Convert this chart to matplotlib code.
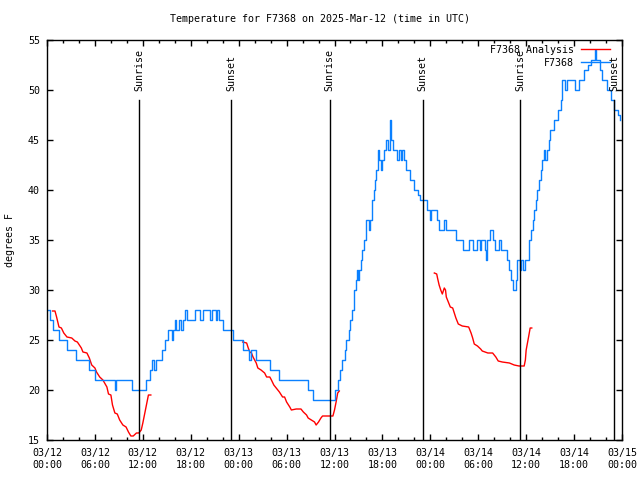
import numpy as np
import matplotlib
matplotlib.use("Agg")
import matplotlib.pyplot as plt
from matplotlib.lines import Line2D

plt.rcParams['font.family'] = ['DejaVu Sans Mono', 'DejaVu Sans']

title = "Temperature for F7368 on 2025-Mar-12 (time in UTC)"
ylabel = "degrees F"

# hours since 03/12 00:00 UTC
obs_hours = [0.1, 0.4, 0.8, 1.5, 2.5, 3.6, 5.3, 6.0, 8.5, 8.7, 10.6, 12.4, 12.9, 13.2, 13.4, 13.6,
             14.4, 14.8, 15.2, 15.7, 15.8, 16.0, 16.2, 16.5, 16.8, 17.0, 17.25, 17.5, 18.5, 19.1,
             19.5, 20.4, 20.7, 21.1, 21.3, 21.5, 22.0, 23.3, 24.5, 25.3, 25.5, 26.2, 27.9, 29.1,
             32.7, 33.3, 36.0, 36.4, 36.7, 37.0, 37.3, 37.5, 37.8, 38.0, 38.2, 38.4, 38.5, 38.7,
             38.8, 38.9, 39.1, 39.3, 39.5, 39.7, 39.9, 40.0, 40.3, 40.5, 40.7, 40.9, 41.1, 41.2,
             41.4, 41.5, 41.6, 41.8, 42.0, 42.2, 42.4, 42.7, 42.9, 43.0, 43.1, 43.3, 43.8, 44.1,
             44.3, 44.4, 44.7, 45.0, 45.5, 46.0, 46.4, 46.7, 47.6, 47.9, 48.1, 48.8, 49.1, 49.7,
             49.9, 51.2, 52.1, 52.9, 53.3, 53.9, 54.2, 54.4, 54.8, 54.95, 55.1, 55.5, 55.9, 56.1,
             56.6, 56.9, 57.6, 57.9, 58.1, 58.4, 58.75, 58.9, 59.2, 59.4, 59.6, 59.8, 60.4, 60.6,
             60.8, 61.0, 61.2, 61.4, 61.6, 61.8, 62.0, 62.2, 62.3, 62.6, 62.8, 63.0, 63.5, 64.0,
             64.3, 64.5, 64.9, 65.1, 66.1, 66.6, 67.2, 67.8, 68.1, 68.6, 68.8, 69.3, 69.5, 70.1,
             70.6, 71.0, 71.5, 71.7]
obs_temp = [28, 27, 26, 25, 24, 23, 22, 21, 20, 21, 20, 21, 22, 23, 22, 23,
            24, 25, 26, 25, 26, 27, 26, 27, 26, 27, 28, 27, 28, 27,
            28, 27, 28, 27, 28, 27, 26, 25, 24, 23, 24, 23, 22, 21,
            20, 19, 20, 21, 22, 23, 24, 25, 26, 27, 28, 29, 30, 31,
            32, 31, 32, 33, 34, 35, 36, 37, 36, 37, 39, 40, 41, 42,
            43, 44, 43, 42, 43, 44, 45, 44, 45, 47, 45, 44, 43, 44,
            43, 44, 43, 42, 41, 40, 39.5, 39, 38, 37, 38, 37, 36, 37,
            36, 35, 34, 35, 34, 35, 34, 35, 34, 33, 35, 36, 35, 34,
            35, 34, 33, 32, 31, 30, 31, 33, 32, 33, 32, 33, 35, 36,
            37, 38, 39, 40, 41, 42, 43, 44, 43, 44, 45, 46, 47, 48,
            49, 51, 50, 51, 50, 51, 52, 52.5, 53, 54, 53, 52, 51, 50,
            49, 48, 47.5, 47]

ana_hours = [0.7, 1.0, 1.2, 1.5, 1.8, 2.1, 2.5, 3.1, 3.5, 3.8, 4.3, 4.5, 5.0, 5.3, 5.6, 6.0,
             6.2, 6.6, 7.0, 7.5, 7.7, 8.0, 8.2, 8.5, 8.8, 9.1, 9.5, 9.9, 10.2, 10.5, 10.8,
             11.2, 11.5, 11.8, 12.0, 12.25, 12.5, 12.7, 13.0,
             np.nan,
             24.5, 25.0, 25.2, 25.4, 25.6, 25.8, 26.2, 26.4, 26.8, 27.25, 27.5, 27.9, 28.1,
             28.4, 28.7, 29.1, 29.5, 29.75, 30.0, 30.4, 30.6, 31.2, 31.8, 32.1, 32.5, 32.7,
             33.1, 33.5, 33.7, 34.0, 34.3, 34.5, 35.8, 36.0, 36.2, 36.4, 36.6,
             np.nan,
             48.5, 48.8, 48.9, 49.1, 49.3, 49.5, 49.75, 49.9, 50.0, 50.25, 50.5, 50.8, 51.0,
             51.2, 51.5, 52.0, 52.8, 53.1, 53.3, 53.5, 53.9, 54.3, 54.5, 55.2, 55.8, 56.2,
             56.5, 57.0, 57.9, 58.5, 59.1, 59.75, 59.9, 60.0, 60.3, 60.5, 60.7]
ana_temp = [27.9, 27.9, 27.3, 26.3, 26.2, 25.7, 25.3, 25.2, 24.9, 24.8, 24.2, 23.8, 23.7, 23.2, 22.5, 22.2,
            21.8, 21.3, 21.0, 20.3, 19.6, 19.5, 18.5, 17.7, 17.6, 17.0, 16.5, 16.3, 15.8, 15.4, 15.4,
            15.7, 15.7, 16.0, 16.7, 17.7, 18.7, 19.5, 19.5,
            np.nan,
            24.8, 24.7, 24.2, 23.8, 23.7, 23.3, 22.7, 22.2, 22.0, 21.7, 21.3, 21.3, 21.0,
            20.5, 20.2, 19.8, 19.3, 19.3, 18.8, 18.3, 18.0, 18.1, 18.1, 17.8, 17.5, 17.2,
            17.0, 16.8, 16.5, 16.8, 17.2, 17.4, 17.4, 18.0, 18.8, 19.7, 19.9,
            np.nan,
            31.7, 31.6, 31.2, 30.5, 30.0, 29.6, 30.2, 30.0, 29.3, 28.8, 28.3, 28.2, 27.7,
            27.2, 26.6, 26.4, 26.3, 25.7, 25.2, 24.6, 24.4, 24.1, 23.9, 23.7, 23.7, 23.3,
            22.9, 22.8, 22.7, 22.5, 22.4, 22.4, 23.0, 24.0, 25.3, 26.2, 26.2]

sun_labels = ["Sunrise", "Sunset", "Sunrise", "Sunset", "Sunrise", "Sunset"]
sun_hours = [11.53, 23.03, 35.38, 47.04, 59.25, 71.04]

xtick_hours = list(range(0, 73, 6))
xtick_labels = ["03/12\n00:00", "03/12\n06:00", "03/12\n12:00", "03/12\n18:00",
                "03/13\n00:00", "03/13\n06:00", "03/13\n12:00", "03/13\n18:00",
                "03/14\n00:00", "03/14\n06:00", "03/14\n12:00", "03/14\n18:00",
                "03/15\n00:00"]
ytick_vals = [15, 20, 25, 30, 35, 40, 45, 50, 55]

FS = 7.2
fig = plt.figure(figsize=(6.4, 4.8), dpi=100)
ax = fig.add_axes([47/640, 40/480, 575/640, 400/480])

red_c = '#ff0000'
blue_c = '#0a80ff'
ax.plot(ana_hours, ana_temp, color=red_c, lw=1.0)
ax.plot(obs_hours, obs_temp, color=blue_c, lw=1.0, drawstyle='steps-post')

for lab, h in zip(sun_labels, sun_hours):
    ax.plot([h, h], [15, 49], color='black', lw=1.0)
    ax.text(h, 49.85, lab, rotation=90, ha='center', va='bottom', fontsize=FS)

ax.set_xlim(0, 72)
ax.set_ylim(15, 55)
ax.set_xticks(xtick_hours)
ax.set_xticklabels(xtick_labels, fontsize=FS, linespacing=1.2)
ax.set_xticks(list(range(0, 73, 2)), minor=True)
ax.set_yticks(ytick_vals)
ax.set_yticklabels([str(v) for v in ytick_vals], fontsize=FS)
ax.tick_params(axis='both', which='major', direction='in', length=4.5, width=1,
               top=True, right=True)
ax.tick_params(axis='x', which='major', pad=6)
ax.tick_params(axis='y', which='major', pad=5)
ax.tick_params(axis='x', which='minor', direction='in', length=2.3, width=1, top=True)
for s in ax.spines.values():
    s.set_linewidth(1.0)

handles = [Line2D([], [], color=red_c, lw=1.0), Line2D([], [], color=blue_c, lw=1.0)]
ax.legend(handles, ["F7368 Analysis", "F7368"], loc='upper right', markerfirst=False,
          frameon=False, fontsize=FS, handlelength=2.9, handletextpad=0.7,
          labelspacing=0.3, borderpad=0.4, borderaxespad=0,
          bbox_to_anchor=(0.986, 0.9975))

fig.text(0.5, 1 - 19/480, title, ha='center', va='center', fontsize=FS)
fig.text(10/640, 0.5, ylabel, rotation=90, ha='center', va='center', fontsize=FS)

fig.savefig("out.png", dpi=100)
